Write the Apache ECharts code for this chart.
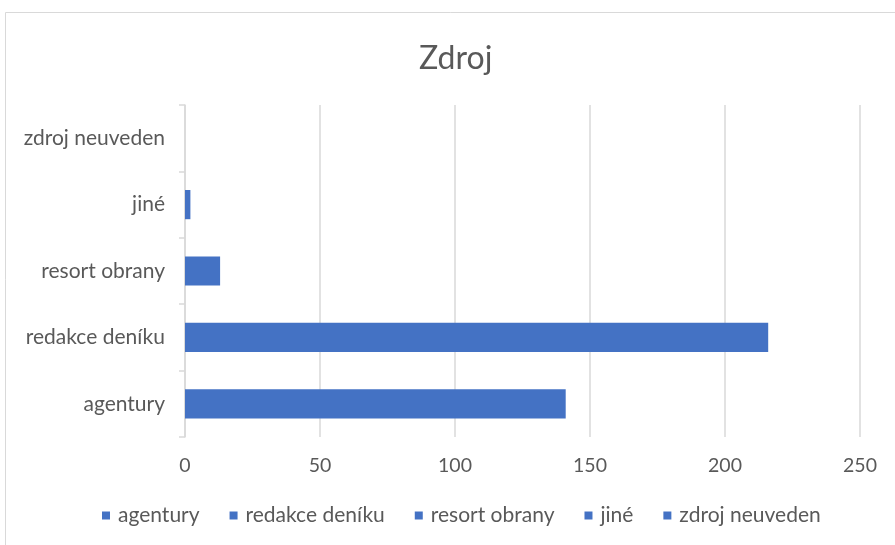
<!DOCTYPE html>
<html><head><meta charset="utf-8">
<script src="https://cdn.jsdelivr.net/npm/echarts@6/dist/echarts.min.js"></script>
<style>html,body{margin:0;padding:0;background:#fff;overflow:hidden}#c{width:895px;height:545px}</style>
</head><body><div id="c"></div>
<script>
const categories = ['agentury', 'redakce deníku', 'resort obrany', 'jiné', 'zdroj neuveden'];
const values = [141, 216, 13, 2, 0];
const xTicks = [0, 50, 100, 150, 200, 250];

const FONT = 'Lato';
const TXT = '#595959';
const BLUE = '#4472c4';
const GRID = '#d9d9d9';

const chart = echarts.init(document.getElementById('c'));
chart.setOption({
  animation: false,
  backgroundColor: '#fff',
  graphic: [{
    type: 'rect', silent: true,
    shape: { x: 5.5, y: 12.5, width: 1000, height: 1000 },
    style: { fill: 'none', stroke: GRID, lineWidth: 1 }
  }],
  title: {
    text: 'Zdroj', left: 414, top: 38,
    textStyle: { fontFamily: FONT, fontSize: 32, fontWeight: 'normal', color: TXT }
  },
  legend: {
    bottom: 14, left: 97,
    icon: 'rect', itemWidth: 8, itemHeight: 8, itemGap: 30,
    textStyle: { fontFamily: FONT, fontSize: 21, color: TXT, padding: [0, 0, 0, 3] },
    data: categories
  },
  grid: { left: 185, right: 35, top: 105, bottom: 108, containLabel: false },
  xAxis: {
    type: 'value', min: xTicks[0], max: xTicks[xTicks.length - 1], interval: 50,
    axisLine: { show: false }, axisTick: { show: false },
    axisLabel: { fontFamily: FONT, fontSize: 19.5, color: TXT, margin: 19 },
    splitLine: { lineStyle: { color: GRID, width: 1.5 } }
  },
  yAxis: {
    type: 'category', data: categories,
    axisLine: { show: true, lineStyle: { color: GRID, width: 1.5 } },
    axisTick: { show: true, length: 6, lineStyle: { color: GRID, width: 1.5 } },
    axisLabel: { fontFamily: FONT, fontSize: 21, color: TXT, margin: 20 }
  },
  series: categories.map((name, i) => ({
    name: name, type: 'bar', stack: 'total',
    barCategoryGap: '56%',
    itemStyle: { color: BLUE },
    data: categories.map((c, j) => j === i ? values[i] : null)
  }))
});
</script></body></html>
